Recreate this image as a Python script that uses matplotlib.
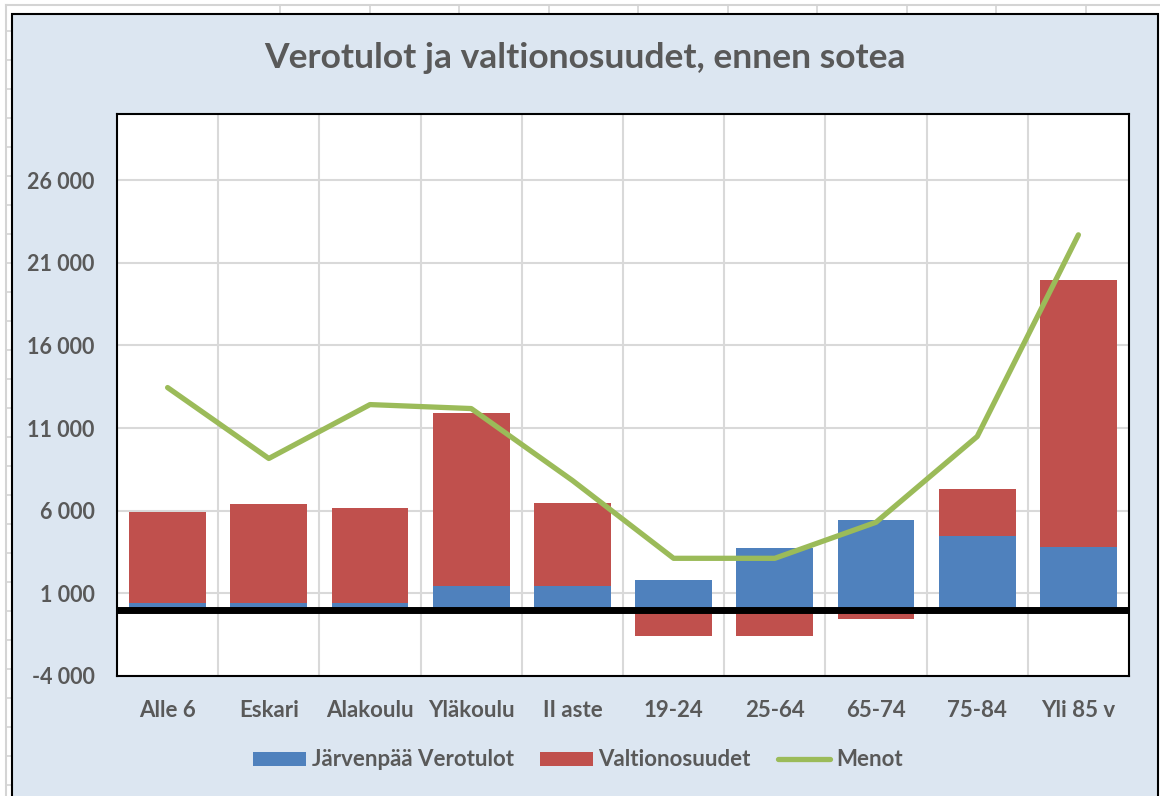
import matplotlib.pyplot as plt
from matplotlib.patches import Rectangle, Patch
from matplotlib.lines import Line2D
import numpy as np

# Data
categories = ["Alle 6", "Eskari", "Alakoulu", "Yläkoulu", "II aste",
              "19-24", "25-64", "65-74", "75-84", "Yli 85 v"]
verotulot = [400, 400, 400, 1430, 1430, 1790, 3730, 5420, 4450, 3790]
valtionosuudet = [5500, 5980, 5740, 10500, 5010, -1590, -1590, -560, 2840, 16180]
menot = [13450, 9160, 12420, 12180, 7830, 3120, 3120, 5300, 10490, 22690]
yticks = [-4000, 1000, 6000, 11000, 16000, 21000, 26000]

BLUE = "#4F81BD"
RED = "#C0504D"
GREEN = "#9BBB59"
TEXT = "#595959"
BG = "#DCE6F1"
GRID = "#D9D9D9"

plt.rcParams['font.family'] = ['Lato', 'DejaVu Sans']
plt.rcParams['font.weight'] = 'bold'

W, H = 1160, 796
fig = plt.figure(figsize=(W / 100, H / 100), dpi=100, facecolor="white")

# spreadsheet cell lines behind the chart
cell = "#D4D4D4"
fig.add_artist(Line2D([6 / W, 1], [1 - 5 / H, 1 - 5 / H], color=cell, lw=1.5, zorder=-3))
fig.add_artist(Line2D([6 / W, 6 / W], [0, 1 - 5 / H], color=cell, lw=1.5, zorder=-3))
for xc in np.arange(280, W, 89.5):
    fig.add_artist(Line2D([xc / W, xc / W], [1 - 5 / H, 1 - 14 / H], color=cell, lw=1.2, zorder=-3))
for yc in np.arange(31, H, 29):
    fig.add_artist(Line2D([6 / W, 12 / W], [1 - yc / H, 1 - yc / H], color=cell, lw=1.2, zorder=-3))

# chart area
fig.add_artist(Rectangle((12 / W, -0.05), (1158 - 12) / W, 1.05 - 14 / H,
                         transform=fig.transFigure, facecolor=BG,
                         edgecolor="black", lw=1.5, zorder=-2))

ax = fig.add_axes([117 / W, (H - 676) / H, (1129 - 117) / W, (676 - 114) / H])
ax.set_zorder(1)
ax.set_facecolor("white")

x = np.arange(len(categories))
bw = 0.76
red_bottom = [b if r > 0 else 0 for b, r in zip(verotulot, valtionosuudet)]
ax.bar(x, verotulot, bw, color=BLUE, zorder=3, label="Järvenpää Verotulot")
ax.bar(x, valtionosuudet, bw, bottom=red_bottom, color=RED, zorder=3,
       label="Valtionosuudet")
ax.axhline(0, color="black", lw=5, zorder=4)
ax.plot(x, menot, color=GREEN, lw=3.8, solid_capstyle="round",
        solid_joinstyle="round", zorder=5, label="Menot")

ax.set_xlim(-0.5, len(categories) - 0.5)
ax.set_ylim(-4000, 30000)
ax.set_yticks(yticks)
ax.set_yticklabels([f"{v:,}".replace(",", " ") for v in yticks])
ax.set_xticks(x)
ax.set_xticklabels(categories)
for b in np.arange(0.5, len(categories) - 0.5, 1):
    ax.axvline(b, color=GRID, lw=1.5, zorder=1)
ax.yaxis.grid(True, color=GRID, lw=1.5, zorder=1)
ax.set_axisbelow(True)
ax.tick_params(axis="both", length=0, labelcolor=TEXT)
ax.tick_params(axis="y", pad=16, labelsize=15.5)
ax.tick_params(axis="x", pad=17, labelsize=16)
for s in ax.spines.values():
    s.set_color("black")
    s.set_linewidth(1.5)

fig.text(0.504, 1 - 58 / H, "Verotulot ja valtionosuudet, ennen sotea",
         ha="center", va="center", fontsize=25.5, fontweight="bold", color=TEXT)

handles = [Patch(facecolor=BLUE), Patch(facecolor=RED),
           Line2D([], [], color=GREEN, lw=3.8, solid_capstyle="round")]
fig.legend(handles, ["Järvenpää Verotulot", "Valtionosuudet", "Menot"],
           loc="center", bbox_to_anchor=(578 / W, 1 - 760 / H), ncol=3,
           frameon=False, fontsize=16, labelcolor=TEXT, handlelength=2.35,
           handleheight=0.6, handletextpad=0.27, columnspacing=1.2)

fig.savefig("out.png", dpi=100, facecolor="white")
